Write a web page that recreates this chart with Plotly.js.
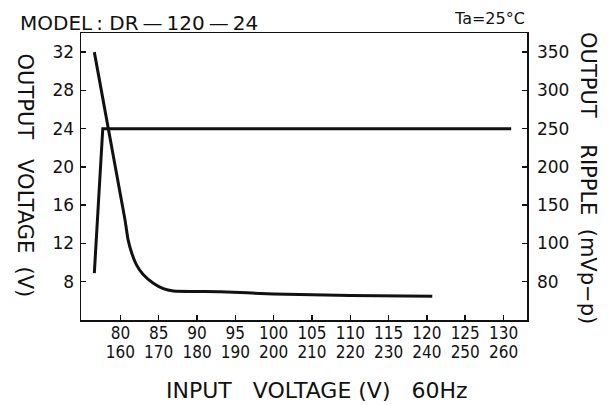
<!DOCTYPE html>
<html>
<head>
<meta charset="utf-8">
<script src="https://cdn.plot.ly/plotly-3.0.1.min.js"></script>
<style>html,body{margin:0;padding:0;background:#fff;}#chart{width:610px;height:405px;}</style>
</head>
<body>
<div id="chart"></div>
<script>
// Input voltage (V, 60Hz) — top tick row and bottom tick row
var xTicks = [80, 85, 90, 95, 100, 105, 110, 115, 120, 125, 130];
var xTickTop = ['80', '85', '90', '95', '100', '105', '110', '115', '120', '125', '130'];
var xTickBottom = ['160', '170', '180', '190', '200', '210', '220', '230', '240', '250', '260'];

// Output voltage (V)
var voltX = [76.6, 77.7, 131.0];
var voltY = [8.9, 24.0, 24.0];

// Output ripple (chart scale of the right axis)
var rippleX = [76.6, 80.6, 81.0, 81.5, 82.1, 83.0, 84.3, 85.6, 86.9, 93.0, 100, 110, 120.7];
var rippleY = [350, 131, 105, 87, 72, 59, 48, 41, 38, 37, 34, 32, 31];

var leftTicks = [8, 12, 16, 20, 24, 28, 32];
var rightTickVals = [50, 100, 150, 200, 250, 300, 350];
var rightTickText = ['80', '100', '150', '200', '250', '300', '350'];

var F = 'DejaVu Sans, sans-serif';
var FN = 'DejaVu Sans Condensed, sans-serif';
var nb = '\u00a0';
var th = '\u2009';

var traces = [
  {x: voltX, y: voltY, type: 'scatter', mode: 'lines', xaxis: 'x', yaxis: 'y',
   line: {color: '#111', width: 3}, hoverinfo: 'skip'},
  {x: rippleX, y: rippleY, type: 'scatter', mode: 'lines', xaxis: 'x', yaxis: 'y2',
   line: {color: '#111', width: 3, shape: 'spline', smoothing: 0.4}, hoverinfo: 'skip'},
  {x: [], y: [], type: 'scatter', mode: 'lines', xaxis: 'x2', yaxis: 'y', hoverinfo: 'skip'}
];

var xr = [74.86, 133.06];
var layout = {
  width: 610, height: 405,
  margin: {l: 81, r: 83, t: 33, b: 85, pad: 0},
  paper_bgcolor: '#fff', plot_bgcolor: '#fff',
  showlegend: false,
  xaxis: {
    range: xr, tickvals: xTicks, ticktext: xTickTop,
    ticks: 'inside', ticklen: 5, tickwidth: 1.5, tickcolor: '#111',
    showline: true, linecolor: '#111', linewidth: 1.5, mirror: true,
    showgrid: false, zeroline: false,
    tickfont: {family: FN, size: 17, color: '#111'},
    ticklabelstandoff: -3
  },
  xaxis2: {
    range: xr, overlaying: 'x', anchor: 'y', side: 'bottom',
    tickvals: xTicks, ticktext: xTickBottom,
    ticks: '', showline: false, showgrid: false, zeroline: false,
    tickfont: {family: FN, size: 17, color: '#111'},
    ticklabelstandoff: 20
  },
  yaxis: {
    range: [4, 34], tickvals: leftTicks,
    ticks: 'inside', ticklen: 5, tickwidth: 1.5, tickcolor: '#111',
    showline: true, linecolor: '#111', linewidth: 1.5,
    showgrid: false, zeroline: false,
    tickfont: {family: F, size: 17, color: '#111'},
    ticklabelstandoff: 2
  },
  yaxis2: {
    range: [0, 375], overlaying: 'y', side: 'right', anchor: 'x',
    tickvals: rightTickVals, ticktext: rightTickText,
    ticks: 'inside', ticklen: 5, tickwidth: 1.5, tickcolor: '#111',
    showline: true, linecolor: '#111', linewidth: 1.5,
    showgrid: false, zeroline: false,
    tickfont: {family: F, size: 17, color: '#111'},
    ticklabelstandoff: 5
  },
  annotations: [
    {text: 'MODEL' + th + ':' + nb + 'DR' + th + '\u2014' + th + '120' + th + '\u2014' + th + '24', xref: 'paper', yref: 'paper',
     x: (18 - 81) / 446, y: (320 - 23) / 287, xanchor: 'left', yanchor: 'middle',
     showarrow: false, font: {family: F, size: 20, color: '#111'}},
    {text: 'Ta=25\u00b0C', xref: 'paper', yref: 'paper',
     x: 1, y: (320 - 19) / 287, xanchor: 'right', yanchor: 'middle',
     showarrow: false, font: {family: F, size: 16, color: '#111'}},
    {text: 'INPUT' + nb + nb + nb + 'VOLTAGE' + nb + '(V)' + nb + nb + nb + '60Hz', xref: 'paper', yref: 'paper',
     x: (316.5 - 81) / 446, y: (320 - 390) / 287, xanchor: 'center', yanchor: 'middle',
     showarrow: false, font: {family: F, size: 22, color: '#111'}},
    {text: 'OUTPUT' + nb + nb + nb + 'VOLTAGE' + nb + nb + '(V)', xref: 'paper', yref: 'paper',
     x: (25 - 81) / 446, y: (320 - 175.5) / 287, xanchor: 'center', yanchor: 'middle',
     textangle: 90, showarrow: false, font: {family: F, size: 21, color: '#111'}},
    {text: 'OUTPUT' + nb + nb + nb + nb + 'RIPPLE' + nb + nb + '(mVp\u2212p)', xref: 'paper', yref: 'paper',
     x: (588 - 81) / 446, y: (320 - 178) / 287, xanchor: 'center', yanchor: 'middle',
     textangle: 90, showarrow: false, font: {family: F, size: 21, color: '#111'}}
  ]
};

Plotly.newPlot('chart', traces, layout, {displayModeBar: false, staticPlot: true});
</script>
</body>
</html>
